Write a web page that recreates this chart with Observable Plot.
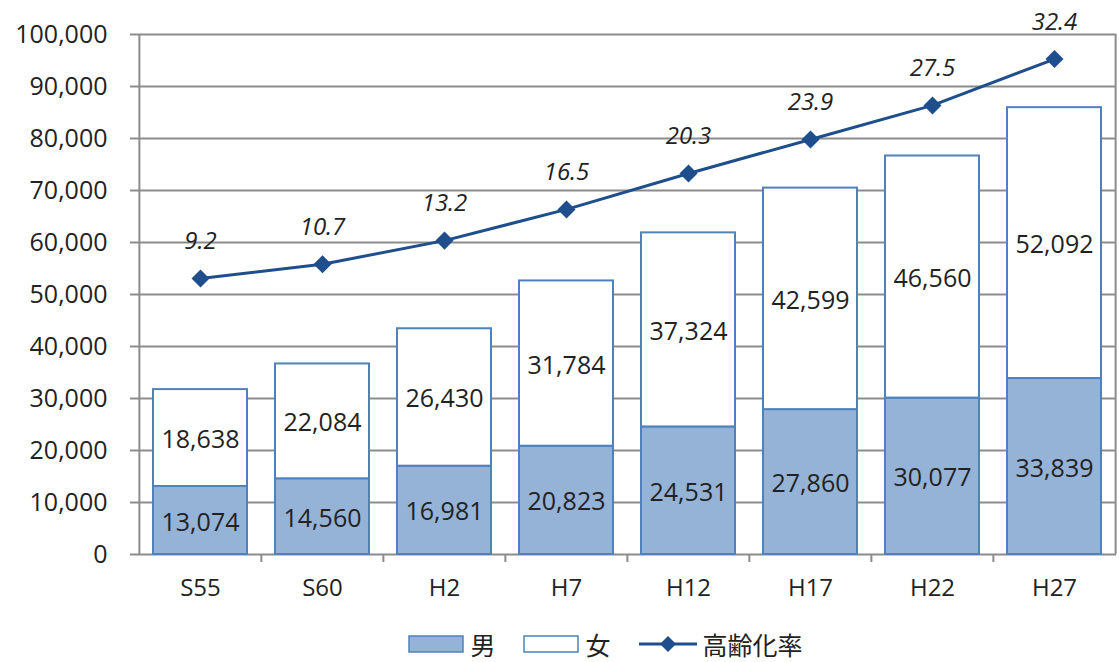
<!DOCTYPE html>
<html><head><meta charset="utf-8">
<script src="https://cdn.jsdelivr.net/npm/d3@7"></script>
<script src="https://cdn.jsdelivr.net/npm/@observablehq/plot@0.6"></script>
<style>
body{margin:0;background:#fff;font-family:"Open Sans","Noto Sans CJK JP",sans-serif;}
#legend{display:flex;justify-content:center;align-items:center;margin-top:14px;font-size:25px;color:#222;font-family:"Noto Sans CJK JP",sans-serif;padding-left:92px}
.item{display:flex;align-items:center;margin:0 14px}
.item svg{margin-right:6px}
</style></head><body>
<div id="chart"></div>
<div id="legend">
 <div class="item"><svg width="56" height="18"><rect x="1" y="1" width="54" height="16" fill="#95b3d7" stroke="#4f81bd" stroke-width="1.5"/></svg>男</div>
 <div class="item"><svg width="56" height="18"><rect x="1" y="1" width="54" height="16" fill="#fff" stroke="#4f81bd" stroke-width="1.5"/></svg>女</div>
 <div class="item"><svg width="58" height="18"><line x1="0" y1="9" x2="58" y2="9" stroke="#1f4e8c" stroke-width="3"/><path d="M29,1L37,9L29,17L21,9Z" fill="#1f4e8c"/></svg>高齢化率</div>
</div>
<script>
const years = ["S55","S60","H2","H7","H12","H17","H22","H27"];
const male = [13074,14560,16981,20823,24531,27860,30077,33839];
const female = [18638,22084,26430,31784,37324,42599,46560,52092];
const rate = [9.2,10.7,13.2,16.5,20.3,23.9,27.5,32.4];
const yTicks = [0,10000,20000,30000,40000,50000,60000,70000,80000,90000,100000];
const rateAxis = [-20,35]; // hidden secondary axis range

const bars = years.flatMap((y,i)=>[
  {year:y, sex:"男", y1:0, y2:male[i], v:male[i]},
  {year:y, sex:"女", y1:male[i], y2:male[i]+female[i], v:female[i]}
]);
const rateScale = r => (r-rateAxis[0])/(rateAxis[1]-rateAxis[0])*100000;
const line = years.map((y,i)=>({year:y, r:rate[i], ry:rateScale(rate[i])}));
const fmt = d3.format(",");
const W=1119, ML=138, MR=3;
const half = (W-ML-MR)/years.length/2;
const grey="#8c8c8c";

const plot = Plot.plot({
  width:W, height:612,
  marginLeft:ML, marginRight:MR, marginTop:34, marginBottom:58,
  style:{fontFamily:"'Open Sans', sans-serif", color:"#222", background:"#fff"},
  x:{domain:years, label:null, paddingInner:0.23, paddingOuter:0.115, axis:null},
  y:{domain:[0,100000], label:null, axis:null},
  marks:[
    Plot.ruleY(yTicks,{stroke:grey, strokeWidth:2, insetLeft:-8}),
    Plot.ruleX([years[0]],{stroke:grey, strokeWidth:2, dx:-half}),
    Plot.ruleX([years[years.length-1]],{stroke:grey, strokeWidth:2, dx:half}),
    Plot.ruleX(years.slice(1),{y1:0, y2:0, insetBottom:-8, stroke:grey, strokeWidth:2, dx:-half}),
    Plot.axisY({ticks:yTicks, tickFormat:d=>fmt(d), tickSize:0, tickPadding:31, fontSize:25, label:null}),
    Plot.axisX({tickSize:0, tickPadding:24, fontSize:24, label:null}),
    Plot.barY(bars,{x:"year", y1:"y1", y2:"y2", fill:d=>d.sex==="男"?"#95b3d7":"#ffffff", stroke:"#4f81bd", strokeWidth:2}),
    Plot.text(bars,{x:"year", y:d=>(d.y1+d.y2)/2, text:d=>fmt(d.v), fontSize:25, fill:"#222", dy:2}),
    Plot.line(line,{x:"year", y:"ry", stroke:"#1f4e8c", strokeWidth:3}),
    Plot.dot(line,{x:"year", y:"ry", symbol:"square", rotate:45, r:7.2, fill:"#1f4e8c", stroke:"none"}),
    Plot.text(line,{x:"year", y:"ry", text:d=>d.r.toFixed(1), dy:-37, fontSize:24, fontStyle:"italic", fill:"#222"})
  ]
});
document.getElementById("chart").appendChild(plot);
</script>
</body></html>
